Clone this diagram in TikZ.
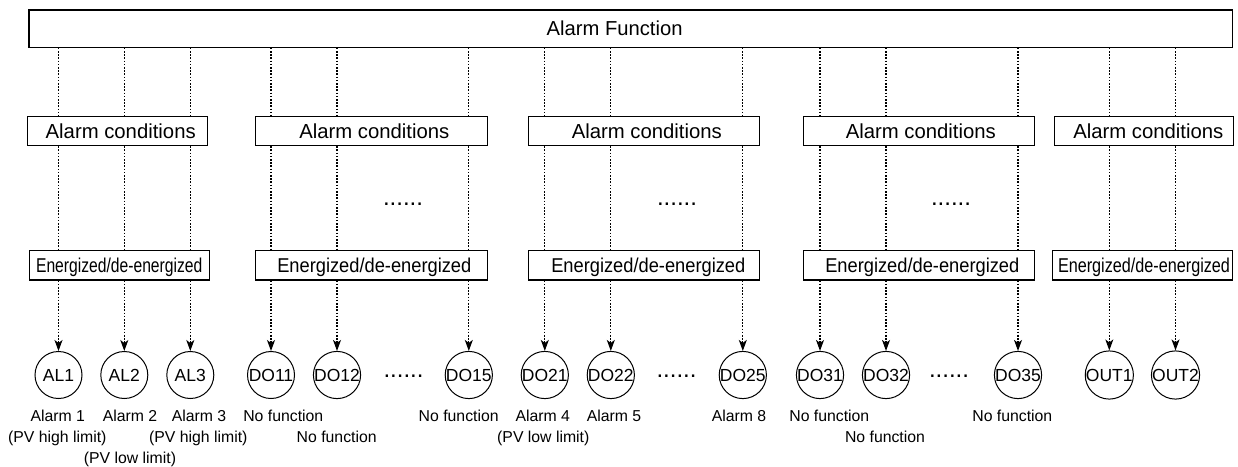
\documentclass[tikz,border=0pt]{standalone}
\usepackage{fontspec}
\setmainfont{Liberation Sans}
\usetikzlibrary{arrows.meta}
\begin{document}
\begin{tikzpicture}[x=1pt,y=-1pt,
  box/.style={draw,line width=1.1pt,rectangle,inner sep=0pt,text depth=0pt,anchor=center},
  condbox/.style={box,minimum height=29pt,font=\fontsize{20.3}{24}\selectfont},
  enbox/.style={box,minimum height=29.3pt,font=\fontsize{20}{24}\selectfont},
  term/.style={draw,circle,line width=1pt,minimum size=47pt,inner sep=0pt,text depth=0pt,font=\fontsize{17.5}{20}\selectfont},
  lbl/.style={anchor=base,inner sep=0pt,font=\fontsize{15.8}{18}\selectfont},
  dots/.style={anchor=base,inner sep=0pt,font=\fontsize{24}{28}\selectfont},
  dotl/.style={line width=1.1pt,dash pattern=on 1.6pt off 1.6pt},
  arr/.style={dotl,-{Stealth[length=11pt,width=8pt,inset=3pt]}}
]
\useasboundingbox (0,0) rectangle (1238,466);

% top box
\node[box,minimum width=1203.3pt,minimum height=37.3pt,font=\fontsize{20.2}{24}\selectfont] (top) at (630.6,28.6) {Alarm Function\hspace*{32pt}};

% alarm conditions boxes
\node[condbox,minimum width=180.3pt] (c1) at (117.2,131.2) {\hspace*{7pt}Alarm conditions};
\node[condbox,minimum width=232pt] (c2) at (371.3,131.2) {\hspace*{6pt}Alarm conditions};
\node[condbox,minimum width=231pt] (c3) at (643.8,131.2) {\hspace*{6pt}Alarm conditions};
\node[condbox,minimum width=231pt] (c4) at (918.8,131.2) {\hspace*{4pt}Alarm conditions};
\node[condbox,minimum width=179pt] (c5) at (1143.8,131.2) {\hspace*{9pt}Alarm conditions};

% energized boxes
\node[enbox,minimum width=180.3pt] (e1) at (119.2,265.3) {\scalebox{0.783}[1]{Energized/de-energized}};
\node[enbox,minimum width=232pt] (e2) at (371.3,265.3) {\hspace*{6pt}\scalebox{0.914}[1]{Energized/de-energized}};
\node[enbox,minimum width=231pt] (e3) at (643.8,265.3) {\hspace*{9pt}\scalebox{0.914}[1]{Energized/de-energized}};
\node[enbox,minimum width=231pt] (e4) at (918.8,265.3) {\hspace*{7pt}\scalebox{0.914}[1]{Energized/de-energized}};
\node[enbox,minimum width=180.4pt] (e5) at (1142.5,265.3) {\hspace*{3pt}\scalebox{0.81}[1]{Energized/de-energized}};

% terminals
\node[term] (a1) at (58.5,375) {AL1};
\node[term] (a2) at (124.3,375) {AL2};
\node[term] (a3) at (190.3,375) {AL3};
\node[term] (d11) at (271,375) {DO11};
\node[term] (d12) at (337,375) {DO12};
\node[term] (d15) at (468.8,375) {DO15};
\node[term] (d21) at (544.8,375) {DO21};
\node[term] (d22) at (610.8,375) {DO22};
\node[term] (d25) at (742.8,375) {DO25};
\node[term] (d31) at (820,375) {DO31};
\node[term] (d32) at (886,375) {DO32};
\node[term] (d35) at (1018,375) {DO35};
\node[term] (o1) at (1109.3,375) {OUT1};
\node[term] (o2) at (1175.5,375) {OUT2};

% connectors
\foreach \n/\g in {a1/1,a2/1,a3/1,d11/2,d12/2,d15/2,d21/3,d22/3,d25/3,d31/4,d32/4,d35/4,o1/5,o2/5}{
  \draw[dotl] (top.south -| \n) -- (c\g.north -| \n);
  \draw[dotl] (c\g.south -| \n) -- (e\g.north -| \n);
  \draw[arr] (e\g.south -| \n) -- (\n);
}

% ellipsis dots
\node[dots] (m1) at (403,205.2) {......};
\node[dots] (m2) at (677,205.2) {......};
\node[dots] (m3) at (951,205.2) {......};
\node[dots] (b1) at (403.5,377.9) {......};
\node[dots] (b2) at (676.5,377.9) {......};
\node[dots] (b3) at (949,377.9) {......};

% labels
\node[lbl] (l1) at (57.8,421) {Alarm 1};
\node[lbl] (l1b) at (57.3,442.5) {(PV high limit)};
\node[lbl] (l2) at (130,421) {Alarm 2};
\node[lbl] (l2b) at (130,463.5) {(PV low limit)};
\node[lbl] (l3) at (199,421) {Alarm 3};
\node[lbl] (l3b) at (198.3,442.5) {(PV high limit)};
\node[lbl] (l11) at (283.3,421) {No function};
\node[lbl] (l12) at (336.7,442.5) {No function};
\node[lbl] (l15) at (458.7,421) {No function};
\node[lbl] (l21) at (542.8,421) {Alarm 4};
\node[lbl] (l21b) at (543.3,442.5) {(PV low limit)};
\node[lbl] (l22) at (614,421) {Alarm 5};
\node[lbl] (l25) at (739,421) {Alarm 8};
\node[lbl] (l31) at (829.3,421) {No function};
\node[lbl] (l32) at (885,442.5) {No function};
\node[lbl] (l35) at (1012.3,421) {No function};
\end{tikzpicture}
\end{document}
